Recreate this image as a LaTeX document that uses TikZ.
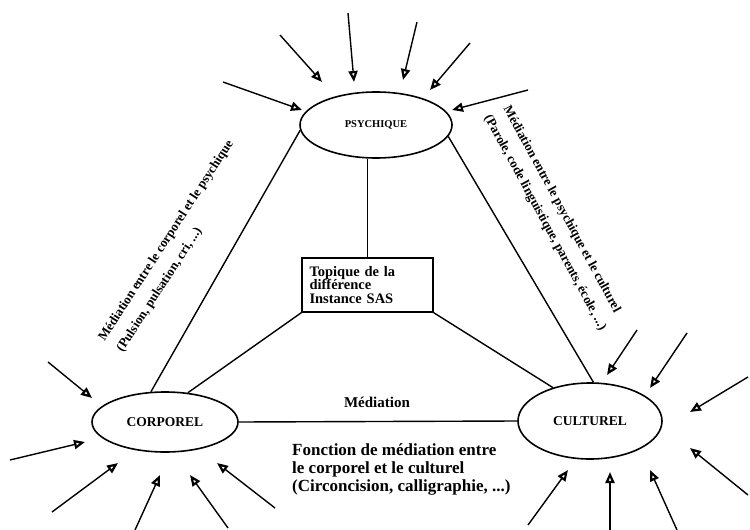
\documentclass[tikz,border=0pt]{standalone}
\usepackage{fontspec}
\setmainfont{Liberation Serif}
\usetikzlibrary{arrows.meta,shapes.geometric}
\tikzset{
  pole/.style={ellipse,draw,line width=1.6pt,inner sep=0pt,font=\bfseries},
  link/.style={line width=1.4pt},
  inarrow/.style={line width=1.4pt,-{Triangle[open,length=11pt,width=9pt,line width=2.2pt]}},
  note/.style={font=\bfseries\fontsize{13}{13}\selectfont,inner sep=0pt,anchor=west},
}
\begin{document}
\begin{tikzpicture}[x=1pt,y=-1pt]
    \useasboundingbox (0,0) rectangle (750,530);
    % les trois poles
    \node[pole,minimum width=152pt,minimum height=66pt,font=\bfseries\fontsize{10.5}{10.5}\selectfont] (psy) at (376,125) {PSYCHIQUE};
    \node[pole,minimum width=146pt,minimum height=60pt,font=\bfseries\fontsize{13.5}{13.5}\selectfont] (corp) at (165,422) {CORPOREL};
    \node[pole,minimum width=144pt,minimum height=76pt,font=\bfseries\fontsize{13.5}{13.5}\selectfont] (cult) at (590,421) {CULTUREL};
    \node[draw,line width=1.4pt,minimum width=131pt,minimum height=54pt,inner sep=3pt,align=left,text width=116pt,
          font=\bfseries\fontsize{14.5}{13.5}\selectfont] (sas) at (367.5,285) {Topique de la\\différence\\Instance SAS};

    \draw[link] (sas.north) -- (sas.north |- psy.south);
    \draw[link] (psy.184) -- (corp.115);
    \draw[link] (psy.-9) -- (cult.85);
    \draw[link] (sas.south west) -- (corp.52);
    \draw[link] (sas.south east) -- (cult.138);
    \draw[link] (corp.east) -- (cult.west);

    % textes
    \node[font=\bfseries\fontsize{15}{15}\selectfont] (med) at (377,402) {Médiation};
    \node[anchor=north west,align=left,inner sep=0pt,font=\bfseries\fontsize{17}{18}\selectfont] (fct) at (292,443)
        {Fonction de médiation entre\\le corporel et le culturel\\(Circoncision, calligraphie, ...)};
    \node[note,rotate=57] (cp1) at (102,340) {Médiation entre le corporel et le psychique};
    \node[note,rotate=57] (cp2) at (120,351) {(Pulsion, pulsation, cri, ...)};
    \node[note,rotate=-61.5] (pc1) at (506,107) {Médiation entre le psychique et le culturel};
    \node[note,rotate=-61.5] (pc2) at (487,116) {(Parole, code linguistique, parents, école, ...)};

    % fleches entrantes
    \foreach \sx/\sy/\ex/\ey in {223/82/302/110, 280/35/322/82, 348/13/354/82, 417/22/403/80,
        470/43/430/90, 528/90/452/110,
        637/330/607/375, 687/333/650/388, 748/377/690/412, 748/495/690/448,
        677/530/650/470, 610/530/610/472, 528/525/568/470,
        48/362/92/398, 10/460/85/442, 52/512/118/463, 135/530/160/475,
        228/528/190/475, 275/508/217/463}
        \draw[inarrow] (\sx,\sy) -- (\ex,\ey);
\end{tikzpicture}
\end{document}
